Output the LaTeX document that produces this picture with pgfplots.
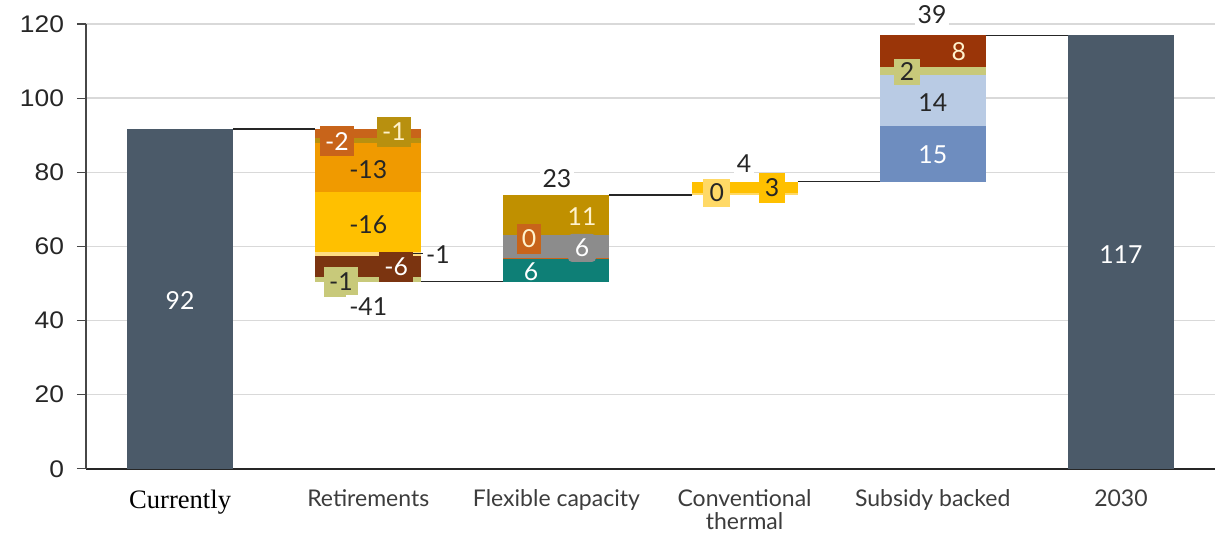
\documentclass[border=0pt]{standalone}
\usepackage{pgfplots}
\pgfplotsset{compat=1.18}
\usepackage{fontspec}
\setmainfont{Lato}
\newfontfamily\serifface{Liberation Serif}
\newfontfamily\tickface{Liberation Sans}[FakeStretch=1.1]
\usetikzlibrary{calc}

% palette
\definecolor{slate}{HTML}{4B5A69}
\definecolor{rustorange}{HTML}{C8641A}
\definecolor{olivegold}{HTML}{B8900F}
\definecolor{deeporange}{HTML}{F09A00}
\definecolor{amber}{HTML}{FFC000}
\definecolor{paleamber}{HTML}{FFDC82}
\definecolor{darkbrown}{HTML}{7B3410}
\definecolor{palegreen}{HTML}{C8C97A}
\definecolor{darkgold}{HTML}{C09000}
\definecolor{midgrey}{HTML}{8C8C8C}
\definecolor{teal}{HTML}{0E7F76}
\definecolor{lightamber}{HTML}{FFD966}
\definecolor{steelblue}{HTML}{6E8DBF}
\definecolor{paleblue}{HTML}{B9CBE4}
\definecolor{redbrown}{HTML}{9A3508}
\definecolor{cream}{HTML}{FFF2CC}
\definecolor{ink}{HTML}{262626}
\definecolor{gridgrey}{HTML}{D9D9D9}

\newcommand{\lblfont}{\fontsize{12.4bp}{14bp}\selectfont}

\begin{document}
\begin{tikzpicture}
\begin{axis}[
  x=94.1bp, y=1.854bp,
  xmin=-0.5, xmax=5.5, ymin=0, ymax=120,
  clip=false,
  axis x line*=bottom, axis y line*=left,
  x axis line style={draw=ink, line width=0.8bp},
  y axis line style={draw=ink!85, line width=0.6bp},
  ytick={0,20,...,120},
  ymajorgrids, grid style={gridgrey, line width=0.7bp},
  tick align=outside, major tick length=4.5bp,
  ytick style={draw=ink!85, line width=0.6bp},
  xtick={0,...,5}, xtick style={draw=none},
  xticklabels={{\serifface\fontsize{13.3bp}{15bp}\selectfont\color{black}Currently},
    Retirements, Flexible capacity, Conventional\\thermal, Subsidy backed, 2030},
  xticklabel style={font=\fontsize{11.5bp}{11.5bp}\selectfont, text=ink!90,
    align=center, anchor=north, yshift=-2.5bp},
  yticklabel style={font=\tickface\fontsize{12bp}{14bp}\selectfont, text=ink,
    xshift=-3bp},
  /pgf/number format/assume math mode=true,
]
\coordinate (bl) at (rel axis cs:0,0);
\coordinate (tr) at (rel axis cs:1,1);

% Currently
\addplot[fill=slate, draw=none] coordinates {(-0.282,0) (0.282,0) (0.282,91.6) (-0.282,91.6)} -- cycle;
% Retirements
\addplot[fill=rustorange, draw=none] coordinates {(0.718,89.3) (1.282,89.3) (1.282,91.6) (0.718,91.6)} -- cycle;
\addplot[fill=olivegold, draw=none] coordinates {(0.718,88.0) (1.282,88.0) (1.282,89.3) (0.718,89.3)} -- cycle;
\addplot[fill=deeporange, draw=none] coordinates {(0.718,74.7) (1.282,74.7) (1.282,88.0) (0.718,88.0)} -- cycle;
\addplot[fill=amber, draw=none] coordinates {(0.718,58.5) (1.282,58.5) (1.282,74.7) (0.718,74.7)} -- cycle;
\addplot[fill=paleamber, draw=none] coordinates {(0.718,57.5) (1.282,57.5) (1.282,58.5) (0.718,58.5)} -- cycle;
\addplot[fill=darkbrown, draw=none] coordinates {(0.718,51.7) (1.282,51.7) (1.282,57.5) (0.718,57.5)} -- cycle;
\addplot[fill=palegreen, draw=none] coordinates {(0.718,50.5) (1.282,50.5) (1.282,51.7) (0.718,51.7)} -- cycle;
% Flexible capacity
\addplot[fill=teal, draw=none] coordinates {(1.718,50.5) (2.282,50.5) (2.282,56.6) (1.718,56.6)} -- cycle;
\addplot[fill=rustorange, draw=none] coordinates {(1.718,56.6) (2.282,56.6) (2.282,56.9) (1.718,56.9)} -- cycle;
\addplot[fill=midgrey, draw=none] coordinates {(1.718,56.9) (2.282,56.9) (2.282,63.0) (1.718,63.0)} -- cycle;
\addplot[fill=darkgold, draw=none] coordinates {(1.718,63.0) (2.282,63.0) (2.282,73.9) (1.718,73.9)} -- cycle;
% Conventional thermal
\addplot[fill=lightamber, draw=none] coordinates {(2.718,73.9) (3.282,73.9) (3.282,74.3) (2.718,74.3)} -- cycle;
\addplot[fill=amber, draw=none] coordinates {(2.718,74.3) (3.282,74.3) (3.282,77.5) (2.718,77.5)} -- cycle;
% Subsidy backed
\addplot[fill=steelblue, draw=none] coordinates {(3.718,77.5) (4.282,77.5) (4.282,92.5) (3.718,92.5)} -- cycle;
\addplot[fill=paleblue, draw=none] coordinates {(3.718,92.5) (4.282,92.5) (4.282,106.2) (3.718,106.2)} -- cycle;
\addplot[fill=palegreen, draw=none] coordinates {(3.718,106.2) (4.282,106.2) (4.282,108.5) (3.718,108.5)} -- cycle;
\addplot[fill=redbrown, draw=none] coordinates {(3.718,108.5) (4.282,108.5) (4.282,116.9) (3.718,116.9)} -- cycle;
% 2030
\addplot[fill=slate, draw=none] coordinates {(4.718,0) (5.282,0) (5.282,116.9) (4.718,116.9)} -- cycle;

% connectors between running totals
\addplot[ink, line width=0.8bp] coordinates {(0.282,91.6) (0.718,91.6)};
\addplot[ink, line width=0.8bp] coordinates {(1.282,50.5) (1.718,50.5)};
\addplot[ink, line width=0.8bp] coordinates {(2.282,73.9) (2.718,73.9)};
\addplot[ink, line width=0.8bp] coordinates {(3.282,77.5) (3.718,77.5)};
\addplot[ink, line width=0.8bp] coordinates {(4.282,116.9) (4.718,116.9)};
\addplot[ink, line width=0.6bp] coordinates {(1.233,58.2) (1.29,58.2)};

% value labels
\begin{scope}[every node/.style={font=\lblfont, inner sep=1.5bp}]
\node[text=white] at (axis cs:0,45.3) {92};
\node[text=white] at (axis cs:5,57.7) {117};
% Retirements
\node[fill=rustorange, text=white, minimum width=17bp, minimum height=15bp] at (axis cs:0.834,88.4) {-2};
\node[fill=olivegold, text=cream, minimum width=17bp, minimum height=15bp] at (axis cs:1.137,90.9) {-1};
\node[text=ink] at (axis cs:1,80.6) {-13};
\node[text=ink] at (axis cs:1,65.8) {-16};
\node[text=ink, anchor=west] at (axis cs:1.29,57.9) {-1};
\node[fill=darkbrown, text=white, minimum width=17bp, minimum height=15bp] at (axis cs:1.148,54.5) {-6};
\node[fill=palegreen, text=ink, minimum width=17bp, minimum height=15bp] at (axis cs:0.855,50.4) {-1};
\node[fill=white, text=ink] at (axis cs:1,43.7) {-41};
% Flexible capacity
\node[fill=white, text=ink] at (axis cs:2.003,78.4) {23};
\node[text=cream] at (axis cs:2.136,68.0) {11};
\node[fill=rustorange, text=cream, minimum width=12bp, minimum height=15bp] at (axis cs:1.854,62.0) {0};
\node[fill=midgrey, text=white, rounded corners=2bp, minimum width=14bp, minimum height=14bp] at (axis cs:2.136,59.6) {6};
\node[text=white] at (axis cs:1.865,53.1) {6};
% Conventional thermal
\node[fill=white, text=ink] at (axis cs:2.997,82.4) {4};
\node[fill=lightamber, text=ink, minimum width=13.5bp, minimum height=14bp] at (axis cs:2.853,74.4) {0};
\node[fill=amber, text=ink, minimum width=13bp, minimum height=15bp] at (axis cs:3.146,75.8) {3};
% Subsidy backed
\node[fill=white, text=ink] at (axis cs:3.996,122.4) {39};
\node[text=cream] at (axis cs:4.139,112.5) {8};
\node[fill=palegreen, text=ink, minimum width=13bp, minimum height=13bp] at (axis cs:3.863,107.1) {2};
\node[text=ink] at (axis cs:4,98.7) {14};
\node[text=white] at (axis cs:4,84.7) {15};
\end{scope}
\end{axis}
\pgfresetboundingbox
\path[use as bounding box] ($(bl)+(-43bp,-32bp)$) rectangle ($(tr)+(3bp,12bp)$);
\end{tikzpicture}
\end{document}
